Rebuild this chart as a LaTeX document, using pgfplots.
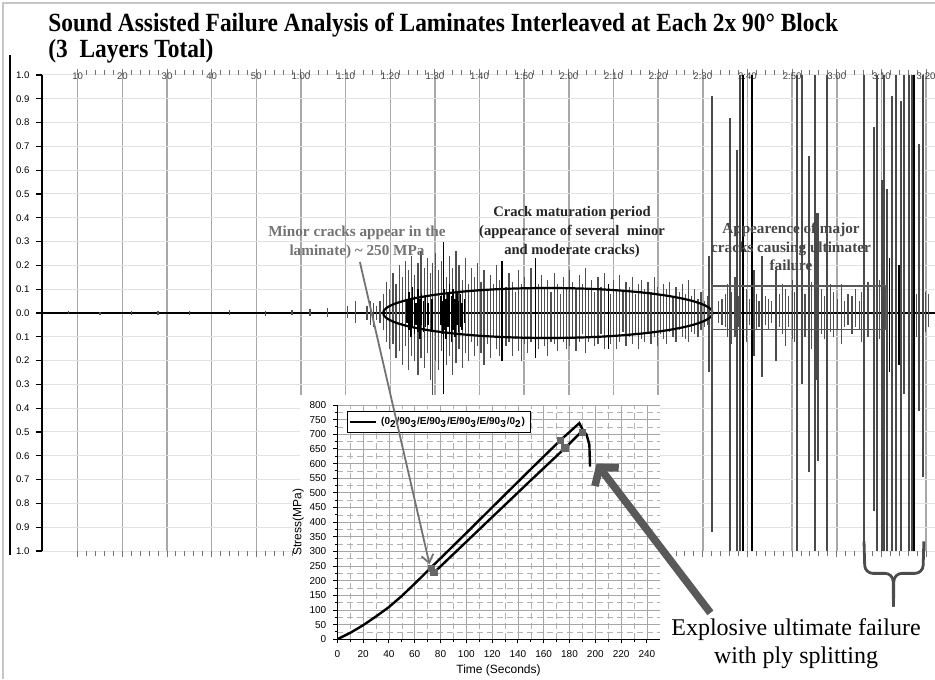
\documentclass[border=0pt]{standalone}
\usepackage{fontspec}
\setmainfont{Liberation Serif}
\newfontfamily\sans{Liberation Sans}
\usepackage{pgfplots}
\pgfplotsset{compat=1.18}
\usepackage{pgfplotstable}
\usetikzlibrary{arrows.meta}
\definecolor{gridv}{HTML}{A8A8A8}
\definecolor{gridh}{HTML}{E2E2E2}
\definecolor{spk}{HTML}{505050}
\definecolor{bigspk}{HTML}{4A4A4A}

\pgfplotstableread{
t up lo
8 0.008 -0.006
15 0.006 -0.008
22 0.01 -0.007
28 0.007 -0.01
35 0.01 -0.008
44 0.012 -0.01
52 0.01 -0.012
58 0.014 -0.01
62 0.015 -0.012
66 0.02 -0.015
70.5 0.03 -0.02
72.2 0.05 -0.04
74.8 0.03 -0.03
75.5 0.05 -0.05
76.2 0.04 -0.06
77 0.03 -0.03
77.7 0.05 -0.04
78.5 0.08 -0.07
79.2 0.13 -0.12
79.9 0.10 -0.15
80.6 0.17 -0.13
81.3 0.12 -0.19
82.0 0.20 -0.16
82.7 0.15 -0.22
83.4 0.22 -0.14
84.1 0.18 -0.24
84.8 0.24 -0.18
85.5 0.16 -0.20
86.2 0.21 -0.26
86.9 0.26 -0.19
87.6 0.19 -0.23
88.3 0.23 -0.17
89.0 0.17 -0.28
89.4 0.21 -0.35
90.1 0.25 -0.20
90.8 0.18 -0.24
91.5 0.22 -0.16
92.6 0.15 -0.22
93.3 0.24 -0.18
94.0 0.19 -0.26
94.7 0.26 -0.21
95.4 0.20 -0.15
96.1 0.14 -0.23
96.8 0.23 -0.17
97.5 0.12 -0.20
98.2 0.19 -0.12
98.9 0.15 -0.18
99.6 0.21 -0.14
100.3 0.13 -0.17
101.0 0.18 -0.22
101.7 0.10 -0.13
102.4 0.16 -0.19
103.1 0.12 -0.10
103.8 0.20 -0.15
104.5 0.14 -0.18
105.9 0.11 -0.14
106.6 0.17 -0.12
107.3 0.13 -0.18
108.0 0.09 -0.11
108.7 0.18 -0.16
109.4 0.12 -0.20
110.1 0.15 -0.13
110.8 0.10 -0.17
111.5 0.19 -0.12
113.2 0.12 -0.15
113.9 0.16 -0.10
114.6 0.11 -0.14
115.3 0.14 -0.18
116.0 0.09 -0.12
116.7 0.17 -0.13
117.4 0.12 -0.16
118.1 0.08 -0.10
118.8 0.15 -0.12
119.5 0.11 -0.15
120.2 0.18 -0.14
120.9 0.13 -0.11
121.6 0.10 -0.16
122.3 0.16 -0.12
123.0 0.12 -0.09
123.7 0.19 -0.17
124.4 0.10 -0.12
125.1 0.14 -0.10
125.8 0.09 -0.14
126.5 0.15 -0.13
127.2 0.11 -0.09
127.9 0.17 -0.15
129.3 0.08 -0.13
130.0 0.14 -0.10
130.7 0.10 -0.15
131.4 0.16 -0.12
132.1 0.09 -0.08
132.8 0.13 -0.14
133.5 0.11 -0.10
134.2 0.15 -0.13
134.9 0.08 -0.09
135.6 0.12 -0.15
136.3 0.14 -0.11
137.0 0.10 -0.12
137.7 0.13 -0.09
138.4 0.09 -0.13
139.1 0.15 -0.10
139.8 0.11 -0.14
140.5 0.08 -0.09
141.2 0.12 -0.11
141.9 0.10 -0.13
142.6 0.13 -0.08
143.3 0.07 -0.10
144.0 0.11 -0.12
144.7 0.09 -0.07
145.4 0.12 -0.10
146.1 0.08 -0.11
146.8 0.14 -0.12
147.5 0.07 -0.08
148.2 0.10 -0.09
148.9 0.06 -0.10
149.6 0.09 -0.07
150.3 0.05 -0.06
151.0 0.07 -0.05
153.5 0.05 -0.04
154.3 0.06 -0.05
155.0 0.08 -0.06
155.6 0.12 -0.10
156.5 0.09 -0.13
157.2 0.15 -0.10
158.0 0.07 -0.06
159.8 0.10 -0.12
160.5 0.06 -0.05
162.0 0.08 -0.07
162.6 0.05 -0.06
164.0 0.07 -0.05
164.7 0.06 -0.07
165.3 0.05 -0.04
167.2 0.08 -0.06
167.8 0.12 -0.09
168.5 0.10 -0.14
169.2 0.07 -0.06
170.0 0.14 -0.11
170.6 0.09 -0.12
172.3 0.11 -0.13
172.9 0.08 -0.10
174.4 0.13 -0.15
176.6 0.10 -0.09
177.2 0.07 -0.11
178.6 0.12 -0.08
179.3 0.09 -0.10
180.1 0.06 -0.07
181.0 0.12 -0.13
181.8 0.05 -0.06
182.5 0.08 -0.05
183.4 0.07 -0.09
184.2 0.10 -0.06
185.0 0.05 -0.07
185.6 0.09 -0.12
187.0 0.13 -0.10
189.6 0.14 -0.11
196.0 0.11 -0.09
197.8 0.08 -0.10
199.8 0.09 -0.08
200.6 0.08 -0.06
}\greythin

\pgfplotstableread{
t up lo
151.3 0.24 -0.25
152.1 0.91 -0.92
156.0 0.82 -1.0
157.7 0.685 -1.0
158.4 1.0 -1.0
161.4 0.18 -0.18
163.3 0.24 -0.27
166.3 0.18 -0.20
171.1 1.0 -1.0
172.3 1.0 -0.30
173.7 0.66 -0.67
175.2 1.0 -1.0
175.6 0.42 -0.28
175.9 0.42 -0.62
177.9 1.0 -1.0
186.1 1.0 -1.0
188.3 0.78 -0.83
189.1 1.0 -1.0
190.2 0.56 -1.0
190.6 1.0 -1.0
191.3 0.52 -1.0
192.4 0.91 -1.0
193.2 1.0 -1.0
194.3 0.89 -1.0
195.0 1.0 -0.34
196.2 1.0 -1.0
196.9 1.0 -1.0
198.4 0.71 -0.41
199.2 1.0 -0.69
}\greybig

\pgfplotstableread{
t up lo
83.8 0.05 -0.04
84.2 0.09 -0.07
84.6 0.06 -0.10
85.0 0.11 -0.06
85.4 0.07 -0.09
85.8 0.04 -0.05
86.2 0.10 -0.08
86.6 0.06 -0.11
87.0 0.08 -0.05
87.4 0.05 -0.08
87.9 0.07 -0.06
88.5 0.04 -0.05
89.3 0.06 -0.07
91.3 0.07 -0.05
91.7 0.05 -0.09
91.9 0.30 -0.34
92.1 0.10 -0.07
92.5 0.06 -0.11
92.9 0.09 -0.06
93.3 0.12 -0.09
93.7 0.07 -0.12
94.1 0.10 -0.07
94.5 0.06 -0.10
94.9 0.09 -0.05
95.3 0.05 -0.08
95.7 0.08 -0.06
96.1 0.04 -0.07
96.6 0.06 -0.04
105.0 0.22 -0.20
112.5 0.23 -0.19
128.9 0.12 -0.15
159.0 1.0 -1.0
161.0 1.0 -1.0
191.8 0.23 -0.25
193.9 0.20 -0.22
197.3 1.0 -1.0
}\blackspk

\begin{document}
\begin{tikzpicture}
\useasboundingbox (0,0) rectangle (467.5pt,339.5pt);
\draw[gray!45, line width=0.6pt] (1.5pt,0) -- (1.5pt,338pt) -- (467.5pt,338pt);
\draw[black, line width=1pt] (5pt,62pt) -- (5pt,312pt);

\begin{axis}[
  at={(21pt,64pt)}, anchor=south west,
  width=446.5pt, height=238pt, scale only axis,
  xmin=2, xmax=202, ymin=-1, ymax=1, clip=false,
  axis line style={draw=none},
  xtick={10,20,...,200},
  xticklabels={10,20,30,40,50,1:00,1:10,1:20,1:30,1:40,1:50,2:00,2:10,2:20,2:30,2:40,2:50,3:00,3:10,3:20},
  xticklabel pos=upper,
  xticklabel style={font=\sans\fontsize{4.8}{5}\selectfont, text=black!75, anchor=center, yshift=-3.5pt},
  minor x tick num=4,
  ytick={-1,-0.9,-0.8,-0.7,-0.6,-0.5,-0.4,-0.3,-0.2,-0.1,0,0.1,0.2,0.3,0.4,0.5,0.6,0.7,0.8,0.9,1},
  yticklabels={1.0,0.9,0.8,0.7,0.6,0.5,0.4,0.3,0.2,0.1,0.0,0.1,0.2,0.3,0.4,0.5,0.6,0.7,0.8,0.9,1.0},
  yticklabel style={font=\sans\fontsize{4.8}{5}\selectfont, anchor=west, xshift=-13.5pt},
  ytick pos=left,
  tick align=outside,
  major tick length=3pt, minor tick length=2.5pt,
  x tick style={black!55, line width=0.5pt},
  y tick style={black, line width=0.6pt},
  xmajorgrids, ymajorgrids,
  major x grid style={gridv, line width=0.75pt},
  major y grid style={gridh, line width=0.5pt},
]
\draw[black, line width=0.8pt] (axis cs:2,-1) -- (axis cs:2,1);
\addplot[black, line width=1pt] coordinates {(2,0) (202,0)};
\addplot[ycomb, no markers, spk, line width=0.6pt] table[x=t,y=up] {\greythin};
\addplot[ycomb, no markers, spk, line width=0.6pt] table[x=t,y=lo] {\greythin};
\addplot[ycomb, no markers, bigspk, line width=1pt] table[x=t,y=up] {\greybig};
\addplot[ycomb, no markers, bigspk, line width=1pt] table[x=t,y=lo] {\greybig};
\addplot[ycomb, no markers, black, line width=0.8pt] table[x=t,y=up] {\blackspk};
\addplot[ycomb, no markers, black, line width=0.8pt] table[x=t,y=lo] {\blackspk};
\draw[black, line width=1.1pt] (axis cs:115.3,0) ellipse [x radius=36.9, y radius=0.105];
\draw[black!65, line width=0.9pt] (axis cs:152.1,-0.069) rectangle (axis cs:191,0.113);
\draw[black!70, line width=1.4pt, rounded corners=4pt] (axis cs:186.1,-0.96) -- (axis cs:186.3,-1.094) -- (axis cs:192.6,-1.094) -- (axis cs:192.7,-1.234);
\draw[black!70, line width=1.4pt, rounded corners=4pt] (axis cs:199.5,-0.96) -- (axis cs:199.3,-1.094) -- (axis cs:192.8,-1.094) -- (axis cs:192.7,-1.234);
\coordinate (S1) at (axis cs:73.2,0.214);
\coordinate (S2) at (axis cs:151.7,-1.26);
\end{axis}

\fill[white] (150pt,0pt) rectangle (330pt,142pt);

\begin{axis}[
  at={(168.65pt,19.85pt)}, anchor=south west,
  width=161.25pt, height=117.15pt, scale only axis,
  xmin=0, xmax=250, ymin=0, ymax=800,
  axis lines*=left,
  axis line style={black, line width=0.6pt},
  xtick={0,20,...,240}, ytick={0,50,...,800},
  minor x tick num=1, minor y tick num=1,
  grid=both,
  major grid style={black!35, line width=0.4pt},
  minor grid style={black!30, densely dashed, line width=0.3pt},
  tick align=outside, major tick length=2pt, minor tick length=1.2pt,
  tick style={black, line width=0.5pt},
  ticklabel style={font=\sans\fontsize{5}{6}\selectfont},
  /pgf/number format/assume math mode=true,
  xlabel={Time (Seconds)}, ylabel={Stress(MPa)},
  label style={font=\sans\fontsize{6}{7}\selectfont},
  xlabel style={yshift=3pt},
  ylabel style={yshift=-4pt},
  legend style={at={(0.03,0.975)}, anchor=north west, font=\sans\bfseries\fontsize{5}{6}\selectfont, draw=black, line width=0.4pt, inner sep=0.8pt, fill=white},
  legend cell align=left,
  legend image code/.code={\draw[line width=1.3pt] (0cm,0cm) -- (0.45cm,0cm);},
]
\addplot[black, line width=1.2pt] coordinates {(0,0) (10,22) (20,48) (30,78) (40,110) (50,148) (60,190) (72,242) (100,363) (130,494) (150,581) (173,680) (187.6,738) (190.7,712) (193.3,698) (195.4,664) (195.9,590)};
\addlegendentry{(0\textsubscript{2}/90\textsubscript{3}/E/90\textsubscript{3}/E/90\textsubscript{3}/E/90\textsubscript{3}/0\textsubscript{2})}
\addplot[black, line width=1.2pt, forget plot] coordinates {(72,242) (75,228) (120,417) (150,543) (176.5,653) (189.5,710) (193.3,698)};
\addplot[only marks, mark=square*, mark size=1.6pt, black!60, forget plot] coordinates {(73,242) (75,228) (173,680) (176.5,653) (190,707)};
\coordinate (A1) at (axis cs:71.5,256);
\coordinate (A2) at (axis cs:201,600);
\end{axis}

\draw[black!55, line width=0.9pt, -{Straight Barb[length=4pt,width=6pt]}] (S1) -- (A1);
\draw[black!65, line width=3.8pt, -{Straight Barb[length=6pt,width=15pt]}] (S2) -- (A2);

\node[anchor=base west, font=\bfseries\fontsize{11.7}{13}\selectfont, inner sep=0pt] at (24pt,323.6pt) {\scalebox{1}[1.12]{Sound Assisted Failure Analysis of Laminates Interleaved at Each 2x 90° Block}};
\node[anchor=base west, font=\bfseries\fontsize{11.7}{13}\selectfont, inner sep=0pt] at (24pt,310.5pt) {\scalebox{1}[1.12]{(3\ \ Layers Total)}};

\node[align=center, font=\bfseries\fontsize{7.6}{9.5}\selectfont, text=black!55] at (178.5pt,218.25pt) {Minor cracks appear in the\\laminate) \textasciitilde{} 250 MPa};
\node[align=center, font=\bfseries\fontsize{7.3}{9.3}\selectfont, text=black!85] at (286pt,223.5pt) {Crack maturation period\\(appearance of several\ \ minor\\and moderate cracks)};
\node[align=center, font=\bfseries\fontsize{7.6}{9.3}\selectfont, text=black!72] at (395.5pt,216pt) {Appearence of major\\cracks causing ultimater\\failure};
\node[align=center, font=\fontsize{12}{14}\selectfont] at (398pt,17.5pt) {Explosive ultimate failure\\with ply splitting};
\end{tikzpicture}
\end{document}
